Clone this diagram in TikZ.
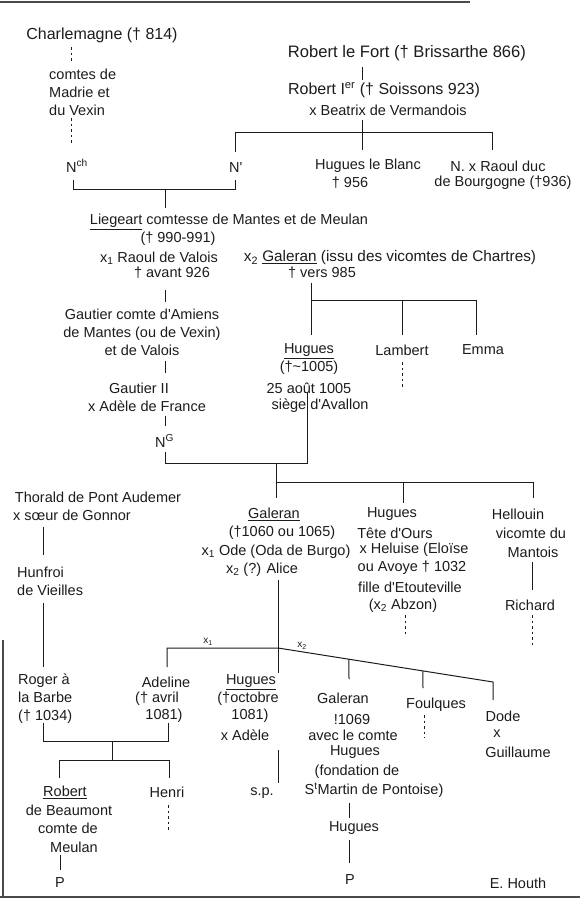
\documentclass[tikz,border=0pt]{standalone}
\usepackage{fontspec}
\usetikzlibrary{calc}
\newfontfamily\hw{Liberation Sans}
\definecolor{ink}{HTML}{1C1C1C}
\tikzset{
  txt/.style={inner sep=0pt, font=\hw\fontsize{14.5}{18}\selectfont, text=ink},
  bigtxt/.style={inner sep=0pt, font=\hw\fontsize{16}{18}\selectfont, text=ink},
  small/.style={inner sep=0pt, font=\hw\fontsize{10}{12}\selectfont, text=ink},
  lnk/.style={line width=1pt, draw=ink},
  dots/.style={line width=1pt, draw=ink, dash pattern=on 2.5pt off 3pt},
  frame/.style={line width=2pt, draw=ink!80},
}
\begin{document}
\begin{tikzpicture}[x=1pt,y=-1pt]
\useasboundingbox (0,0) rectangle (580,900);
\fill[white] (0,0) rectangle (580,900);
% frame
\coordinate (ftl) at (0,2); \coordinate (ftr) at (470,2);
\coordinate (fbl) at (0,897); \coordinate (fbr) at (580,897);
\coordinate (fl1) at (3,640); \coordinate (fl2) at (3,897);
\draw[frame] (ftl) -- (ftr);
\draw[frame, line width=2.5pt] (fbl) -- (fbr);
\draw[frame, line width=1.2pt] (fl1) -- (fl2);

% ---------- texts ----------
\node[bigtxt] (charl) at (102,35) {Charlemagne († 814)};
\node[txt, align=left, anchor=west] (madrie) at (49,92) {comtes de\\Madrie et\\du Vexin};
\node[txt, anchor=base west] (nch) at (66,172) {N\textsuperscript{ch}};
\node[txt, anchor=base west] (nprime) at (229,172) {N'};
\node[bigtxt, font=\hw\fontsize{16.6}{18}\selectfont] (rfort) at (407,53) {Robert le Fort († Brissarthe 866)};
\node[bigtxt] (rI) at (384,90) {Robert I\textsuperscript{er} († Soissons 923)};
\node[txt] (beatrix) at (388,110) {x Beatrix de Vermandois};
\node[txt] (hblanc) at (368,166) {Hugues le Blanc};
\node[txt] (hblanc2) at (350,183) {† 956};
\node[txt] (raoulduc) at (498,166) {N. x Raoul duc};
\node[txt] (raoulduc2) at (503,183) {de Bourgogne (†936)};
\node[txt] (liegeart) at (229,222) {\underline{Liegeart} comtesse de Mantes et de Meulan};
\node[txt] (liegeart2) at (178,239) {(† 990-991)};
\node[txt] (raoul) at (159,258) {x\textsubscript{1} Raoul de Valois};
\node[txt] (raoul2) at (172,273) {† avant 926};
\node[txt, font=\hw\fontsize{15.3}{18}\selectfont] (galeranA) at (390,258) {x\textsubscript{2} \underline{Galeran} (issu des vicomtes de Chartres)};
\node[txt] (galeranA2) at (322,273) {† vers 985};
\node[txt, align=center] (gautier) at (142,332) {Gautier comte d'Amiens\\de Mantes (ou de Vexin)\\et de Valois};
\node[txt, align=center] (hugues1) at (309,359) {\underline{Hugues}\\(†\textasciitilde1005)};
\node[txt] (lambert) at (402,350) {Lambert};
\node[txt] (emma) at (483,350) {Emma};
\node[txt] (aout) at (309,388) {25 août 1005};
\node[txt] (siege) at (320,406) {siège d'Avallon};
\node[txt] (gautierII) at (139,388) {Gautier II};
\node[txt] (adele) at (147,406) {x Adèle de France};
\node[txt, anchor=base west] (ng) at (155,447) {N\textsuperscript{G}};
\node[txt] (thorald) at (98,497) {Thorald de Pont Audemer};
\node[txt] (soeur) at (72,515) {x sœur de Gonnor};
\node[txt, align=left, anchor=west] (hunfroi) at (17,581) {Hunfroi\\de Vieilles};
\node[txt] (galeranB1) at (274,514) {\underline{Galeran}};
\node[txt] (galeranB2) at (282,533) {(†1060 ou 1065)};
\node[txt] (galeranB3) at (276,552) {x\textsubscript{1} Ode (Oda de Burgo)};
\node[txt] (galeranB4) at (262,570) {x\textsubscript{2} (?) Alice};
\node[txt] (hto1) at (392,514) {Hugues};
\node[txt] (hto2) at (395,533) {Tête d'Ours};
\node[txt] (hto3) at (414,550) {x Heluise (Eloïse};
\node[txt] (hto4) at (412,568) {ou Avoye † 1032};
\node[txt] (hto5) at (410,587) {fille d'Etouteville};
\node[txt] (hto6) at (403,606) {(x\textsubscript{2} Abzon)};
\node[txt] (hell1) at (518,514) {Hellouin};
\node[txt] (hell2) at (531,533) {vicomte du};
\node[txt] (hell3) at (533,552) {Mantois};
\node[txt] (richard) at (530,605) {Richard};
\node[small] (lx1) at (208,642) {x\textsubscript{1}};
\node[small] (lx2) at (302,646) {x\textsubscript{2}};
\node[txt, align=left, anchor=west] (roger) at (18,699) {Roger à\\la Barbe\\(† 1034)};
\node[txt] (adel1) at (166,682) {Adeline};
\node[txt] (adel2) at (157,699) {(† avril};
\node[txt] (adel3) at (164,716) {1081)};
\node[txt] (hug2a) at (251,682) {\underline{Hugues}};
\node[txt] (hug2b) at (248,699) {(†octobre};
\node[txt] (hug2c) at (250,716) {1081)};
\node[txt] (hug2d) at (245,735) {x Adèle};
\node[txt] (sp) at (262,793) {s.p.};
\node[txt] (rob1) at (65,792) {\underline{Robert}};
\node[txt] (rob2) at (69,810) {de Beaumont};
\node[txt] (rob3) at (68,828) {comte de};
\node[txt] (rob4) at (74,847) {Meulan};
\node[txt] (pA) at (60,883) {P};
\node[txt] (henri) at (167,792) {Henri};
\node[txt] (gal3a) at (343,698) {Galeran};
\node[txt] (gal3b) at (352,719) {!1069};
\node[txt] (gal3c) at (353,735) {avec le comte};
\node[txt] (gal3d) at (355,752) {Hugues};
\node[txt] (gal3e) at (357,772) {(fondation de};
\node[txt] (gal3f) at (374,790) {S\textsuperscript{t}Martin de Pontoise)};
\node[txt] (hug3) at (354,828) {Hugues};
\node[txt] (pB) at (350,880) {P};
\node[txt] (foulques) at (436,705) {Foulques};
\node[txt] (dode1) at (503,716) {Dode};
\node[txt] (dode2) at (497,734) {x};
\node[txt] (dode3) at (518,752) {Guillaume};
\node[txt] (houth) at (518,883) {E. Houth};

% ---------- junction coordinates ----------
\coordinate (c1) at (71,47); \coordinate (c2) at (71,63);
\coordinate (c3) at (71,118); \coordinate (c4) at (71,145);
\coordinate (n1) at (73,180); \coordinate (n2) at (73,189);
\coordinate (n3) at (235,189); \coordinate (n4) at (235,180);
\coordinate (n5) at (165,189); \coordinate (n6) at (165,208);
\coordinate (r1) at (362,67); \coordinate (r2) at (362,80);
\coordinate (r3) at (362,120); \coordinate (r4) at (362,150);
\coordinate (r5) at (235,152); \coordinate (r6) at (235,132);
\coordinate (r7) at (492,132); \coordinate (r8) at (492,150);
\coordinate (v1) at (165,290); \coordinate (v2) at (165,302);
\coordinate (g1) at (311,283); \coordinate (g2) at (311,300);
\coordinate (g3) at (311,335); \coordinate (g4) at (476,300);
\coordinate (g5) at (476,335); \coordinate (g6) at (402,300);
\coordinate (g7) at (402,335);
\coordinate (l1) at (402,362); \coordinate (l2) at (402,388);
\coordinate (w1) at (165,361); \coordinate (w2) at (165,373);
\coordinate (w3) at (165,416); \coordinate (w4) at (165,426);
\coordinate (w5) at (165,452); \coordinate (w6) at (165,463);
\coordinate (w7) at (307,463); \coordinate (w8) at (307,392);
\coordinate (m1) at (276,463); \coordinate (m2) at (276,482);
\coordinate (m3) at (533,482); \coordinate (m4) at (533,498);
\coordinate (m5) at (276,498); \coordinate (m6) at (403,482);
\coordinate (m7) at (403,503);
\coordinate (t1) at (43,527); \coordinate (t2) at (43,555);
\coordinate (t3) at (43,603); \coordinate (t4) at (43,667);
\coordinate (a1) at (278,580); \coordinate (a2) at (278,648);
\coordinate (a3) at (278,673); \coordinate (a4) at (167,648);
\coordinate (a5) at (167,667); \coordinate (a6) at (493,682);
\coordinate (a7) at (493,700);
\coordinate (b1) at ($(a2)!0.330!(a6)$); \coordinate (b2) at (349,679);
\coordinate (b3) at ($(a2)!0.674!(a6)$); \coordinate (b4) at (423,688);
\coordinate (o1) at (405,615); \coordinate (o2) at (405,637);
\coordinate (h1) at (532,562); \coordinate (h2) at (532,590);
\coordinate (h3) at (532,615); \coordinate (h4) at (532,645);
\coordinate (f1) at (424,715); \coordinate (f2) at (424,738);
\coordinate (e1) at (43,723); \coordinate (e2) at (43,741);
\coordinate (e3) at (168,741); \coordinate (e4) at (168,723);
\coordinate (e5) at (112,741); \coordinate (e6) at (112,760);
\coordinate (e7) at (59,778); \coordinate (e8) at (59,760);
\coordinate (e9) at (169,760); \coordinate (e10) at (169,778);
\coordinate (p1) at (60,855); \coordinate (p2) at (60,870);
\coordinate (d1) at (168,805); \coordinate (d2) at (168,830);
\coordinate (s1) at (278,750); \coordinate (s2) at (278,783);
\coordinate (q1) at (349,803); \coordinate (q2) at (349,818);
\coordinate (q3) at (349,840); \coordinate (q4) at (349,863);

% ---------- connectors ----------
\draw[dots] (c1) -- (c2);
\draw[dots] (c3) -- (c4);
\draw[lnk] (n1) -- (n2) -- (n3) -- (n4);
\draw[lnk] (n5) -- (n6);
\draw[lnk] (r1) -- (r2);
\draw[lnk] (r3) -- (r4);
\draw[lnk] (r5) -- (r6) -- (r7) -- (r8);
\draw[lnk] (v1) -- (v2);
\draw[lnk] (g1) -- (g2);
\draw[lnk] (g3) -- (g2) -- (g4) -- (g5);
\draw[lnk] (g6) -- (g7);
\draw[dots] (l1) -- (l2);
\draw[lnk] (w1) -- (w2);
\draw[lnk] (w3) -- (w4);
\draw[lnk] (w5) -- (w6) -- (w7) -- (w8);
\draw[lnk] (m1) -- (m2) -- (m3) -- (m4);
\draw[lnk] (m2) -- (m5);
\draw[lnk] (m6) -- (m7);
\draw[lnk] (t1) -- (t2);
\draw[lnk] (t3) -- (t4);
\draw[lnk] (a1) -- (a3);
\draw[lnk] (a5) -- (a4) -- (a2) -- (a6) -- (a7);
\draw[lnk] (b1) -- (b2);
\draw[lnk] (b3) -- (b4);
\draw[dots] (o1) -- (o2);
\draw[lnk] (h1) -- (h2);
\draw[dots] (h3) -- (h4);
\draw[dots] (f1) -- (f2);
\draw[lnk] (e1) -- (e2) -- (e3) -- (e4);
\draw[lnk] (e5) -- (e6);
\draw[lnk] (e7) -- (e8) -- (e9) -- (e10);
\draw[lnk] (p1) -- (p2);
\draw[dots] (d1) -- (d2);
\draw[lnk] (s1) -- (s2);
\draw[lnk] (q1) -- (q2);
\draw[lnk] (q3) -- (q4);
\end{tikzpicture}
\end{document}
